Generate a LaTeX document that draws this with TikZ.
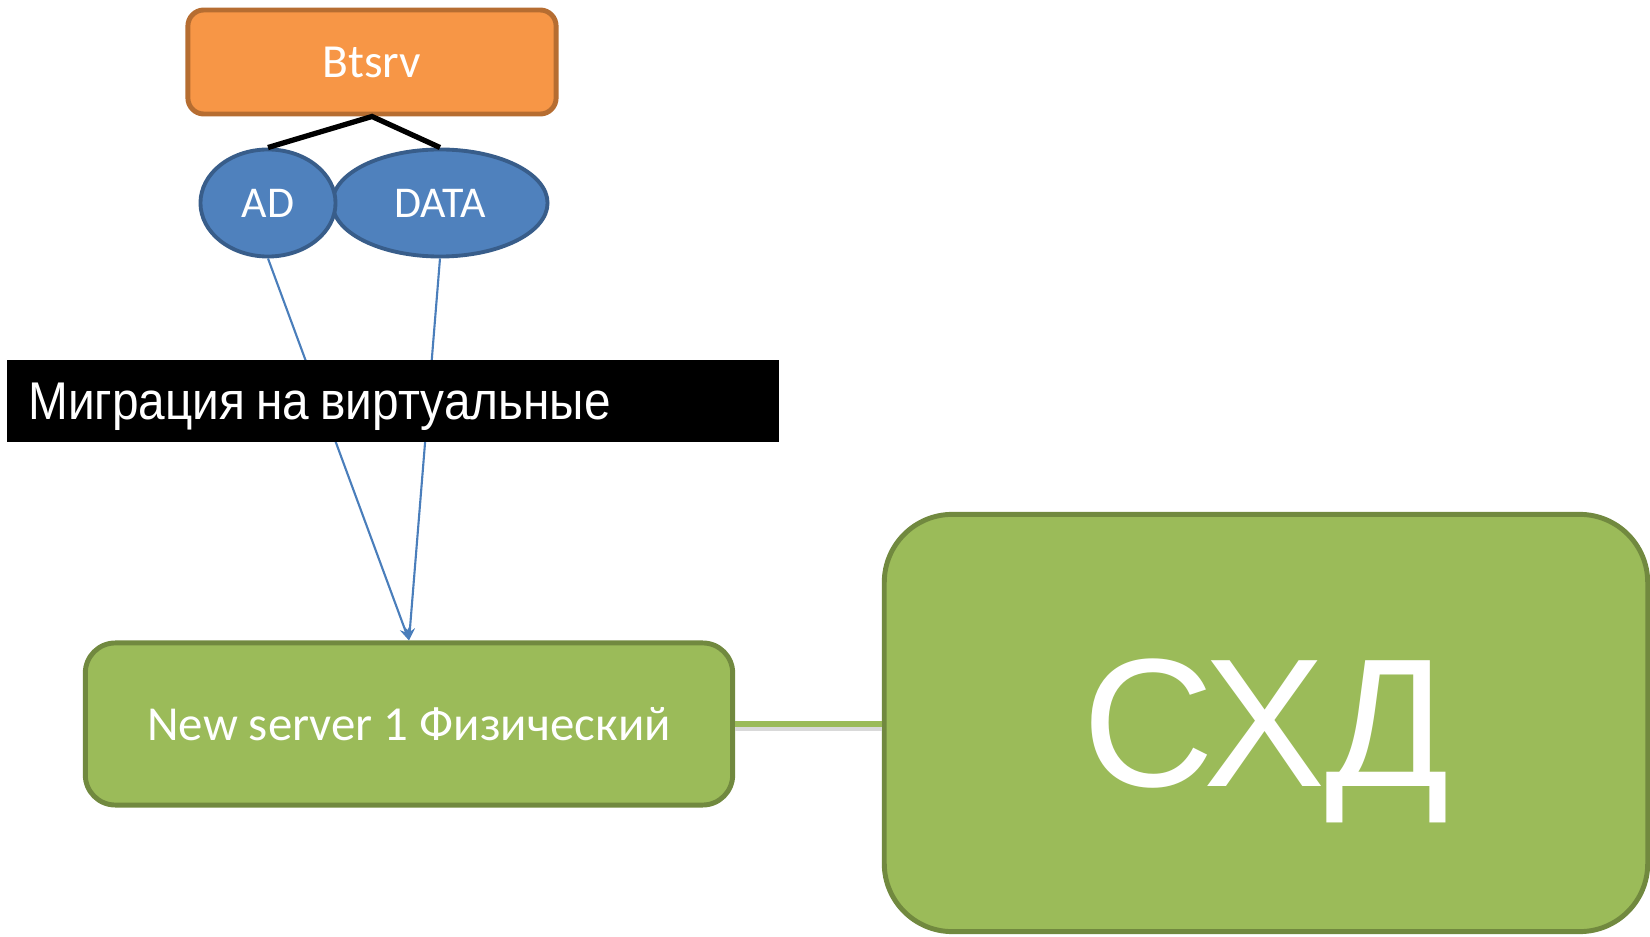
\documentclass[tikz,border=0pt]{standalone}
\usepackage{fontspec}
\setmainfont{Carlito}
\newfontfamily\bannerfont[FakeStretch=0.9]{Liberation Sans}
\newfontfamily\bigfont{Liberation Sans}
\usetikzlibrary{shapes.geometric,arrows.meta}
\definecolor{orfill}{HTML}{F79646}
\definecolor{orline}{HTML}{B66D31}
\definecolor{blfill}{HTML}{4F81BD}
\definecolor{blline}{HTML}{385D8A}
\definecolor{blarrow}{HTML}{4A7EBB}
\definecolor{grfill}{HTML}{9BBB59}
\definecolor{grline}{HTML}{71893F}
\begin{document}
\begin{tikzpicture}[x=0.01cm,y=-0.01cm,
host/.style={draw=orline,fill=orfill,line width=1.4pt,rounded corners=0.16cm,text=white},
role/.style={ellipse,draw=blline,fill=blfill,line width=1.1pt,text=white,inner sep=0pt,
  font=\fontsize{12.5}{15}\selectfont},
server/.style={draw=grline,fill=grfill,line width=1.4pt,text=white},
tie/.style={black,line width=1.5pt},
mig/.style={blarrow,line width=0.6pt,-{Stealth[length=3.6pt,width=2.8pt]}},
link/.style={grfill,line width=1.6pt,
  preaction={draw=black!15,line width=1.6pt,transform canvas={yshift=-1.1pt}}},
]
\useasboundingbox (0,0) rectangle (1650,937);
\node[host,minimum width=3.68cm,minimum height=1.04cm,font=\fontsize{13.5}{16}\selectfont]
    (btsrv) at (372,62) {Btsrv};
\node[role,minimum width=2.15cm,minimum height=1.07cm] (data) at (440,203) {DATA};
\node[role,minimum width=1.35cm,minimum height=1.07cm] (ad) at (268,203) {AD};
\draw[tie] (ad.north) -- (btsrv.south) -- (data.north);
\node[server,rounded corners=0.3cm,minimum width=6.47cm,minimum height=1.62cm,
    font=\fontsize{13.9}{16}\selectfont] (srv) at (409,724) {New server 1 Физический};
\draw[mig] (ad.south) -- (srv.north);
\draw[mig] (data.south) -- (srv.north);
\node[fill=black,text=white,text width=7.29cm,inner xsep=0.21cm,inner ysep=0pt,
    minimum height=0.82cm,align=left,text depth=0pt,
    font=\bannerfont\fontsize{15.1}{18}\selectfont]
    (banner) at (393,401) {\spaceskip=0.21em\relax Миграция на виртуальные};
\node[server,rounded corners=0.68cm,minimum width=7.63cm,minimum height=4.17cm,
    text depth=0pt,font=\bigfont\fontsize{52}{60}\selectfont] (sxd) at (1266,723) {СХД};
\draw[link] (srv.east) -- (srv.east -| sxd.west);
\end{tikzpicture}
\end{document}
